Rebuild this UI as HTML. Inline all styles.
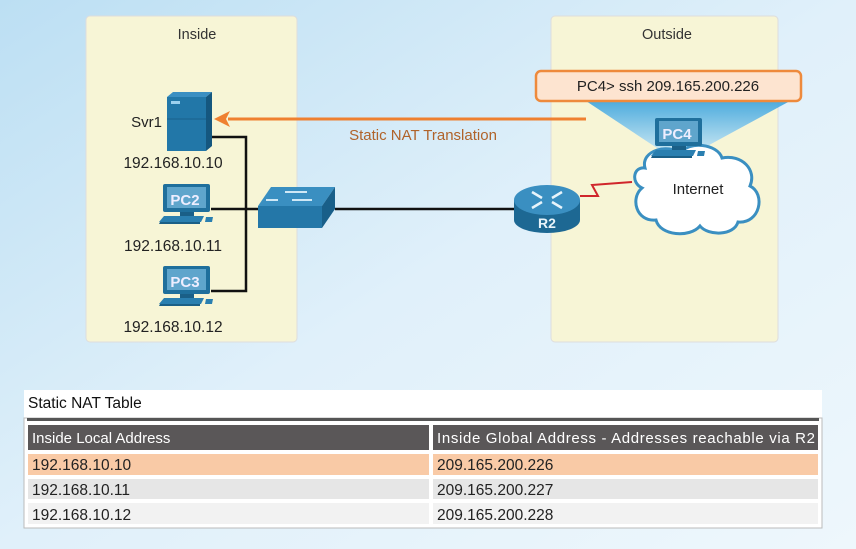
<!DOCTYPE html>
<html><head><meta charset="utf-8"><style>
html,body{margin:0;padding:0;width:856px;height:549px;overflow:hidden;font-family:"Liberation Sans",sans-serif;}
</style></head><body>
<svg width="856" height="549" viewBox="0 0 856 549" xmlns="http://www.w3.org/2000/svg" font-family="Liberation Sans, sans-serif">
<defs>
<linearGradient id="bg" x1="0" y1="0" x2="1" y2="1">
<stop offset="0" stop-color="#bcdff3"/><stop offset="0.5" stop-color="#e0f0fa"/><stop offset="1" stop-color="#eef7fc"/>
</linearGradient>
<linearGradient id="beam" x1="0" y1="0" x2="0" y2="1">
<stop offset="0" stop-color="#3aa3de"/><stop offset="1" stop-color="#bfe3f5"/>
</linearGradient>
<g id="pc">
<rect x="5" y="0" width="47" height="28" rx="2" fill="#1f6f9c"/>
<rect x="9" y="3" width="39" height="21" fill="#5fa5cc"/>
<path d="M22 28h14v4H22z" fill="#1a5f87"/>
<path d="M6 32h40l-3 6H1z" fill="#2a7fb0"/>
<path d="M2 38h40v2H1z" fill="#1a5f87"/>
<path d="M48 33h7l-1 5h-7z" fill="#2a7fb0"/>
</g>
</defs>
<rect width="856" height="549" fill="url(#bg)"/>
<rect x="86" y="16" width="211" height="326" rx="4" fill="#f7f5d6" stroke="#ddd" />
<rect x="551" y="16" width="227" height="326" rx="4" fill="#f7f5d6" stroke="#ddd"/>
<text x="197" y="39" font-size="14.5" text-anchor="middle" fill="#333">Inside</text>
<text x="667" y="39" font-size="14.5" text-anchor="middle" fill="#333">Outside</text>
<path d="M211 137H246V291H211" fill="none" stroke="#111" stroke-width="2.5"/>
<path d="M211 209H262M335 209H516" fill="none" stroke="#111" stroke-width="2.5"/>
<!-- server -->
<path d="M167 97l6-5h39l-6 5z" fill="#3b8fc2"/>
<path d="M206 97l6-5v54l-6 5z" fill="#15577f"/>
<rect x="167" y="97" width="39" height="54" fill="#2277a8"/>
<path d="M167 119h39" stroke="#1a628c" stroke-width="1"/>
<rect x="171" y="101" width="9" height="3" fill="#9cd0ee"/>
<text x="162" y="127" font-size="15" text-anchor="end" fill="#222">Svr1</text>
<text x="173" y="168" font-size="15.5" text-anchor="middle" fill="#222">192.168.10.10</text>
<use href="#pc" x="158" y="184"/>
<text x="185" y="205" font-size="15" font-weight="bold" text-anchor="middle" fill="#eef">PC2</text>
<text x="173" y="251" font-size="15.5" text-anchor="middle" fill="#222">192.168.10.11</text>
<use href="#pc" x="158" y="266"/>
<text x="185" y="287" font-size="15" font-weight="bold" text-anchor="middle" fill="#eef">PC3</text>
<text x="173" y="332" font-size="15.5" text-anchor="middle" fill="#222">192.168.10.12</text>
<!-- switch -->
<path d="M258 206l13-19h64l-13 19z" fill="#3a8fc1"/>
<path d="M322 206l13-19v22l-13 19z" fill="#195f89"/>
<rect x="258" y="206" width="64" height="22" fill="#2477a8"/>
<path d="M285 192h22M278 200h-12M292 200h20" stroke="#cfe8f6" stroke-width="2"/>
<!-- router -->
<path d="M514 200v20a33 13 0 0 0 66 0v-20z" fill="#1d6893"/>
<ellipse cx="547" cy="200" rx="33" ry="15" fill="#3a8fc1"/>
<path d="M532 192l10 6M562 192l-10 6M532 208l10-6M562 208l-10-6" stroke="#e8f4fb" stroke-width="2.5"/>
<text x="547" y="228" font-size="14" font-weight="bold" text-anchor="middle" fill="#e8f4fb">R2</text>
<path d="M580 196h18l-6-11 40-3" fill="none" stroke="#d0262c" stroke-width="2"/>
<path d="M586 101H790L700 150H660z" fill="url(#beam)" opacity="0.9"/>
<!-- cloud -->
<path d="M645 168c-5-18 25-25 35-14c8-14 38-10 42 4c20-4 35 12 28 28c16 8 10 38-12 36c-4 14-30 14-38 4c-10 12-40 10-44-6c-20 2-26-22-14-32c-12-6-8-22 3-20z" fill="#fff" stroke="#3a8fc1" stroke-width="3"/>
<text x="698" y="194" font-size="15" text-anchor="middle" fill="#222">Internet</text>
<use href="#pc" x="650" y="118"/>
<text x="677" y="139" font-size="15" font-weight="bold" text-anchor="middle" fill="#eef">PC4</text>
<rect x="536" y="71" width="265" height="30" rx="5" fill="#fde4d0" stroke="#ee8a3c" stroke-width="2.5"/>
<text x="668" y="91" font-size="15" text-anchor="middle" fill="#222">PC4&gt; ssh 209.165.200.226</text>
<path d="M586 119H228" stroke="#ef8030" stroke-width="3"/>
<path d="M214 119l16-8-4 8 4 8z" fill="#ef8030"/>
<text x="423" y="140" font-size="15" text-anchor="middle" fill="#b0632a">Static NAT Translation</text>
<!-- table -->
<rect x="24" y="390" width="798" height="28" fill="#fff"/>
<text x="28" y="408" font-size="15.5" fill="#111">Static NAT Table</text>
<rect x="24" y="418" width="798" height="110" fill="#fff" stroke="#bbb"/>
<rect x="27" y="418" width="792" height="3" fill="#555"/>
<rect x="28" y="425" width="401" height="25" fill="#5a5758"/>
<rect x="433" y="425" width="385" height="25" fill="#5a5758"/>
<text x="32" y="443" font-size="15" fill="#fff">Inside Local Address</text>
<text x="437" y="443" font-size="15" fill="#fff" textLength="378">Inside Global Address - Addresses reachable via R2</text>
<rect x="28" y="454" width="401" height="21" fill="#f9caa6"/>
<rect x="433" y="454" width="385" height="21" fill="#f9caa6"/>
<rect x="28" y="479" width="401" height="20" fill="#e6e6e6"/>
<rect x="433" y="479" width="385" height="20" fill="#e6e6e6"/>
<rect x="28" y="503" width="401" height="21" fill="#f2f2f2"/>
<rect x="433" y="503" width="385" height="21" fill="#f2f2f2"/>
<g font-size="15.5" fill="#222">
<text x="32" y="470">192.168.10.10</text><text x="437" y="470">209.165.200.226</text>
<text x="32" y="495">192.168.10.11</text><text x="437" y="495">209.165.200.227</text>
<text x="32" y="520">192.168.10.12</text><text x="437" y="520">209.165.200.228</text>
</g>
</svg>
</body></html>
